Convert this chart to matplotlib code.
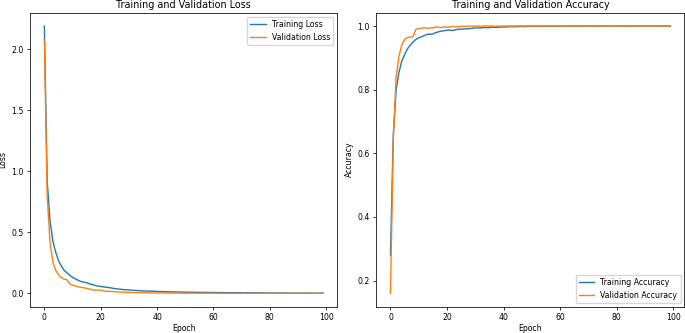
import matplotlib
matplotlib.use("Agg")
import matplotlib.pyplot as plt

# per-epoch history
epochs = list(range(100))

train_loss = [
    2.19, 0.92, 0.60, 0.43, 0.34, 0.27, 0.225, 0.19, 0.17, 0.15,
    0.132, 0.12, 0.108, 0.098, 0.092, 0.088, 0.079, 0.072, 0.066, 0.061,
    0.057, 0.054, 0.050, 0.048, 0.044, 0.040, 0.037, 0.034, 0.032, 0.030,
    0.028, 0.027, 0.025, 0.024, 0.022, 0.021, 0.020, 0.019, 0.019, 0.018,
    0.017, 0.016, 0.015, 0.015, 0.014, 0.013, 0.013, 0.012, 0.012, 0.011,
    0.011, 0.010, 0.010, 0.010, 0.009, 0.009, 0.009, 0.008, 0.008, 0.008,
    0.008, 0.007, 0.007, 0.007, 0.007, 0.006, 0.006, 0.006, 0.006, 0.006,
    0.006, 0.005, 0.006, 0.005, 0.005, 0.005, 0.005, 0.004, 0.005, 0.004,
    0.004, 0.004, 0.004, 0.004, 0.004, 0.003, 0.004, 0.003, 0.003, 0.003,
    0.003, 0.003, 0.003, 0.003, 0.003, 0.003, 0.003, 0.002, 0.003, 0.002,
]
val_loss = [
    2.08, 0.80, 0.42, 0.26, 0.19, 0.155, 0.13, 0.118, 0.112, 0.080,
    0.068, 0.062, 0.055, 0.050, 0.046, 0.042, 0.036, 0.030, 0.027, 0.028,
    0.026, 0.020, 0.018, 0.017, 0.016, 0.014, 0.012, 0.011, 0.010, 0.009,
    0.009, 0.008, 0.007, 0.007, 0.006, 0.006, 0.005, 0.005, 0.005, 0.004,
    0.004, 0.004, 0.004, 0.003, 0.003, 0.003, 0.003, 0.003, 0.003, 0.002,
    0.002, 0.002, 0.002, 0.002, 0.002, 0.002, 0.002, 0.002, 0.002, 0.002,
    0.002, 0.002, 0.001, 0.002, 0.001, 0.001, 0.001, 0.001, 0.001, 0.001,
    0.001, 0.001, 0.001, 0.001, 0.001, 0.001, 0.001, 0.001, 0.001, 0.001,
    0.001, 0.001, 0.001, 0.001, 0.001, 0.001, 0.001, 0.001, 0.001, 0.001,
    0.001, 0.001, 0.001, 0.001, 0.001, 0.001, 0.001, 0.001, 0.001, 0.001,
]
train_acc = [
    0.28, 0.66, 0.80, 0.855, 0.89, 0.91, 0.928, 0.94, 0.95, 0.958,
    0.963, 0.966, 0.970, 0.974, 0.974, 0.975, 0.979, 0.982, 0.984, 0.985,
    0.987, 0.987, 0.986, 0.988, 0.990, 0.990, 0.991, 0.991, 0.992, 0.993,
    0.994, 0.994, 0.994, 0.995, 0.995, 0.995, 0.996, 0.996, 0.996, 0.997,
    0.997, 0.997, 0.998, 0.998, 0.998, 0.998, 0.999, 0.998, 0.999, 0.999,
    0.999, 0.999, 0.999, 0.999, 0.999, 0.999, 1.000, 0.999, 0.999, 1.000,
    0.999, 1.000, 0.999, 1.000, 1.000, 0.999, 1.000, 1.000, 0.999, 1.000,
    1.000, 1.000, 0.999, 1.000, 1.000, 1.000, 1.000, 0.999, 1.000, 1.000,
    1.000, 1.000, 1.000, 1.000, 0.999, 1.000, 1.000, 1.000, 1.000, 1.000,
    1.000, 1.000, 1.000, 1.000, 1.000, 1.000, 1.000, 1.000, 1.000, 1.000,
]
val_acc = [
    0.16, 0.64, 0.84, 0.905, 0.94, 0.958, 0.964, 0.965, 0.967, 0.990,
    0.992, 0.993, 0.995, 0.993, 0.994, 0.994, 0.997, 0.996, 0.995, 0.997,
    0.996, 0.997, 0.999, 0.997, 0.998, 0.999, 0.999, 0.999, 1.000, 0.999,
    1.000, 1.000, 0.999, 1.000, 1.000, 1.000, 1.000, 0.999, 1.000, 1.000,
    1.000, 1.000, 1.000, 1.000, 1.000, 1.000, 1.000, 1.000, 1.000, 1.000,
    1.000, 1.000, 1.000, 1.000, 1.000, 1.000, 1.000, 1.000, 1.000, 1.000,
    1.000, 1.000, 1.000, 1.000, 1.000, 1.000, 1.000, 1.000, 1.000, 1.000,
    1.000, 1.000, 1.000, 1.000, 1.000, 1.000, 1.000, 1.000, 1.000, 1.000,
    1.000, 1.000, 1.000, 1.000, 1.000, 1.000, 1.000, 1.000, 1.000, 1.000,
    1.000, 1.000, 1.000, 1.000, 1.000, 1.000, 1.000, 1.000, 1.000, 1.000,
]

plt.rcParams.update({
    'font.size': 5.6,
    'axes.linewidth': 0.55,
    'xtick.major.width': 0.55,
    'ytick.major.width': 0.55,
    'xtick.major.size': 2.4,
    'ytick.major.size': 2.4,
    'xtick.major.pad': 2.4,
    'ytick.major.pad': 2.4,
    'axes.labelpad': 2.7,
    'legend.fontsize': 5.6,
})

fig = plt.figure(figsize=(6.85, 3.33), dpi=100)
ax1 = fig.add_axes([0.0444, 0.079, 0.448, 0.883])
ax2 = fig.add_axes([0.5496, 0.079, 0.4496, 0.883])

ax1.plot(epochs, train_loss, label='Training Loss', lw=1.0)
ax1.plot(epochs, val_loss, label='Validation Loss', lw=1.0)
ax1.set_title('Training and Validation Loss', fontsize=6.9, pad=3)
ax1.set_xlabel('Epoch', labelpad=1.5)
ax1.set_ylabel('Loss')
ax1.legend(loc='upper right')

ax2.plot(epochs, train_acc, label='Training Accuracy', lw=1.0)
ax2.plot(epochs, val_acc, label='Validation Accuracy', lw=1.0)
ax2.set_title('Training and Validation Accuracy', fontsize=6.9, pad=3)
ax2.set_xlabel('Epoch', labelpad=1.5)
ax2.set_ylabel('Accuracy')
ax2.legend(loc='lower right')

fig.savefig('out.png', dpi=100)
